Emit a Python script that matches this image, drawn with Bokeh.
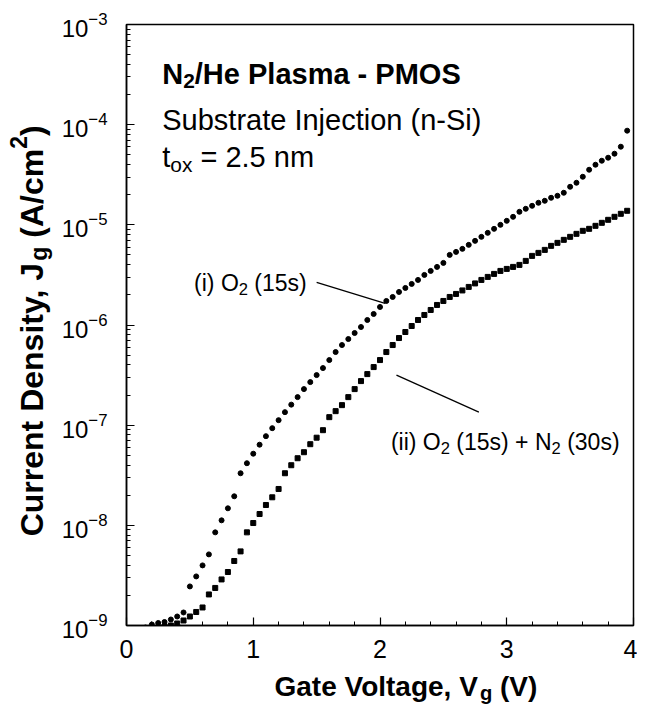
import math
from bokeh.plotting import figure
from bokeh.layouts import column, row
from bokeh.models import Label, ColumnDataSource, SingleIntervalTicker, LogTicker
from bokeh.embed import file_html
from bokeh.resources import INLINE

# ---------------- data ----------------
gate_voltage = [0.05, 0.10, 0.15, 0.20, 0.25, 0.30, 0.35, 0.40, 0.45, 0.50,
                0.55, 0.60, 0.65, 0.70, 0.75, 0.80, 0.85, 0.90, 0.95, 1.00,
                1.05, 1.10, 1.15, 1.20, 1.25, 1.30, 1.35, 1.40, 1.45, 1.50,
                1.55, 1.60, 1.65, 1.70, 1.75, 1.80, 1.85, 1.90, 1.95, 2.00,
                2.05, 2.10, 2.15, 2.20, 2.25, 2.30, 2.35, 2.40, 2.45, 2.50,
                2.55, 2.60, 2.65, 2.70, 2.75, 2.80, 2.85, 2.90, 2.95, 3.00,
                3.05, 3.10, 3.15, 3.20, 3.25, 3.30, 3.35, 3.40, 3.45, 3.50,
                3.55, 3.60, 3.65, 3.70, 3.75, 3.80, 3.85, 3.90, 3.95]

# log10 of Jg (A/cm^2), series (i) O2 (15s)  -- circles
log_jg_o2 = [-9.04, -9.03, -9.02, -8.99, -8.975, -8.965, -8.94, -8.91, -8.87, -8.61,
             -8.51, -8.40, -8.29, -8.07, -7.95, -7.83, -7.71, -7.48, -7.38, -7.285,
             -7.195, -7.11, -7.03, -6.95, -6.87, -6.795, -6.72, -6.64, -6.57, -6.50,
             -6.43, -6.35, -6.27, -6.20, -6.14, -6.08, -6.02, -5.95, -5.89, -5.82,
             -5.76, -5.72, -5.67, -5.63, -5.59, -5.55, -5.50, -5.46, -5.42, -5.38,
             -5.30, -5.27, -5.24, -5.20, -5.16, -5.12, -5.08, -5.04, -5.00, -4.96,
             -4.92, -4.87, -4.84, -4.81, -4.78, -4.76, -4.73, -4.71, -4.68, -4.62,
             -4.58, -4.52, -4.45, -4.40, -4.36, -4.33, -4.29, -4.22, -4.06]

# log10 of Jg (A/cm^2), series (ii) O2 (15s) + N2 (30s)  -- squares
log_jg_o2_n2 = [-9.05, -9.05, -9.05, -9.04, -9.02, -9.01, -9.00, -8.98, -8.95, -8.91,
                -8.865, -8.82, -8.69, -8.625, -8.54, -8.466, -8.356, -8.26, -8.07, -7.977,
                -7.887, -7.797, -7.72, -7.637, -7.48, -7.40, -7.33, -7.27, -7.19, -7.125,
                -7.05, -6.92, -6.86, -6.80, -6.72, -6.64, -6.56, -6.49, -6.42, -6.35,
                -6.27, -6.20, -6.13, -6.07, -6.01, -5.95, -5.90, -5.85, -5.80, -5.76,
                -5.72, -5.69, -5.655, -5.62, -5.585, -5.55, -5.52, -5.49, -5.46, -5.44,
                -5.42, -5.40, -5.36, -5.31, -5.28, -5.25, -5.21, -5.18, -5.15, -5.12,
                -5.09, -5.06, -5.04, -5.01, -4.98, -4.95, -4.92, -4.89, -4.86]

jg_o2 = [10.0 ** e for e in log_jg_o2]
jg_o2_n2 = [10.0 ** e for e in log_jg_o2_n2]

FONT = "Liberation Sans"

# Arial / Liberation Sans advance widths (1/1000 em) for rich-text layout
REG = {' ': 278, '(': 333, ')': 333, '+': 584, '-': 333, '.': 278, '/': 278, ',': 278,
       '=': 584, 'A': 667, 'C': 722, 'D': 722, 'G': 778, 'H': 722, 'I': 278, 'J': 500,
       'M': 833, 'N': 722, 'O': 778, 'P': 667, 'S': 667, 'V': 667, 'a': 556, 'b': 556,
       'c': 500, 'e': 556, 'g': 556, 'i': 222, 'j': 222, 'l': 222, 'm': 833, 'n': 556,
       'o': 556, 'r': 333, 's': 500, 't': 278, 'u': 556, 'x': 500, 'y': 500}
BOLD = {' ': 278, '(': 333, ')': 333, '+': 584, '-': 333, '.': 278, '/': 278, ',': 278,
        '=': 584, 'A': 722, 'C': 722, 'D': 722, 'G': 778, 'H': 722, 'I': 278, 'J': 556,
        'M': 833, 'N': 722, 'O': 778, 'P': 667, 'S': 667, 'V': 667, 'a': 556, 'c': 556,
        'e': 556, 'g': 611, 'i': 278, 'l': 278, 'm': 889, 'n': 611, 'o': 611, 'r': 389,
        's': 556, 't': 333, 'u': 611, 'y': 556}


def text_width(s, bold):
    table = BOLD if bold else REG
    return sum(table.get(c, 556) for c in s) / 1000.0


def rich_text(fig, x, y, parts, size, bold=False, angle=0.0):
    """Lay out text pieces (normal / sub / sup) one after another."""
    adv = 0.0
    for txt, kind in parts:
        fs = size * 0.72 if kind else size
        shift = {None: 0.0, "sub": -0.24 * size, "sup": 0.40 * size}[kind]
        lead = len(txt) - len(txt.lstrip(" "))
        adv += text_width(" " * lead, bold) * fs
        core = txt.strip(" ")
        if angle == 0.0:
            xo, yo = adv, shift
        else:
            xo, yo = -shift, adv
        fig.add_layout(Label(x=x, y=y, text=core, x_offset=xo, y_offset=yo, angle=angle,
                             text_font=FONT, text_font_size=f"{fs:.1f}px",
                             text_font_style="bold" if bold else "normal",
                             text_color="black", text_align="left",
                             text_baseline="alphabetic"))
        adv += text_width(txt.lstrip(" "), bold) * fs


def blank_fig(w, h):
    f = figure(width=w, height=h, x_range=(0, w), y_range=(0, h),
               x_axis_location=None, y_axis_location=None,
               output_backend="svg", toolbar_location=None,
               min_border=0, background_fill_color="white", border_fill_color="white")
    f.grid.visible = False
    f.outline_line_color = None
    return f


LEFT_W = 58
TOTAL_W = 637
MAIN_H = 667
BOTTOM_H = 40

p = figure(width=TOTAL_W - LEFT_W, height=MAIN_H, x_range=(0, 4), y_range=(1e-9, 1e-3),
           y_axis_type="log", output_backend="svg", toolbar_location=None,
           min_border_left=123 - LEFT_W, min_border_right=4, min_border_top=24,
           min_border_bottom=MAIN_H - 625, background_fill_color="white",
           border_fill_color="white")

p.xgrid.visible = False
p.ygrid.visible = False
p.outline_line_color = "black"
p.outline_line_width = 1.5

p.xaxis.ticker = SingleIntervalTicker(interval=1, num_minor_ticks=5)
p.yaxis.ticker = LogTicker(desired_num_ticks=7, num_minor_ticks=10)

for ax in (p.xaxis, p.yaxis):
    ax.axis_line_color = "black"
    ax.axis_line_width = 1.5
    ax.major_tick_in = 8
    ax.major_tick_out = 0
    ax.minor_tick_in = 4
    ax.minor_tick_out = 0
    ax.major_tick_line_color = "black"
    ax.minor_tick_line_color = "black"
    ax.major_tick_line_width = 1.2
    ax.minor_tick_line_width = 1
    ax.major_label_text_font = FONT
    ax.major_label_text_color = "black"

p.xaxis.major_label_text_font_size = "25px"
p.xaxis.major_label_standoff = 14
p.yaxis.major_label_text_font_size = "24px"
p.yaxis.major_label_standoff = 19

src_i = ColumnDataSource(dict(v=gate_voltage, j=jg_o2))
src_ii = ColumnDataSource(dict(v=gate_voltage, j=jg_o2_n2))
p.scatter("v", "j", source=src_i, marker="circle", size=5, color="black")
p.scatter("v", "j", source=src_ii, marker="square", size=5, color="black")

# pointer lines
p.segment(x0=[1.50], y0=[10 ** -5.575], x1=[2.04], y1=[10 ** -5.784],
          line_color="black", line_width=1.3)
p.segment(x0=[2.13], y0=[10 ** -6.50], x1=[2.78], y1=[10 ** -6.87],
          line_color="black", line_width=1.3)

# annotations inside the frame
rich_text(p, 0.282, 10 ** -3.499,
          [("N", None), ("2", "sub"), ("/He Plasma - PMOS", None)], 29, bold=True)
rich_text(p, 0.282, 10 ** -3.958, [("Substrate Injection (n-Si)", None)], 29)
rich_text(p, 0.282, 10 ** -4.327, [("t", None), ("ox", "sub"), (" = 2.5 nm", None)], 29)
rich_text(p, 0.533, 10 ** -5.585, [("(i) O", None), ("2", "sub"), (" (15s)", None)], 23)
rich_text(p, 2.086, 10 ** -7.172,
          [("(ii) O", None), ("2", "sub"), (" (15s) + N", None), ("2", "sub"),
           (" (30s)", None)], 23)

# axis titles (drawn in side canvases so they are not clipped)
yfig = blank_fig(LEFT_W, MAIN_H)
rich_text(yfig, 31, MAIN_H - 568,
          [("Current Density, J", None), ("g", "sub"), (" (A/cm", None),
           ("2", "sup"), (")", None)], 32, bold=True, angle=math.pi / 2)

xfig = blank_fig(TOTAL_W, BOTTOM_H)
rich_text(xfig, 274, BOTTOM_H - (686 - MAIN_H),
          [("Gate Voltage, V", None), ("g", "sub"), (" (V)", None)], 28, bold=True)

layout = column(row(yfig, p, spacing=0), xfig, spacing=0)
open("out.html", "w").write(file_html(layout, INLINE))
